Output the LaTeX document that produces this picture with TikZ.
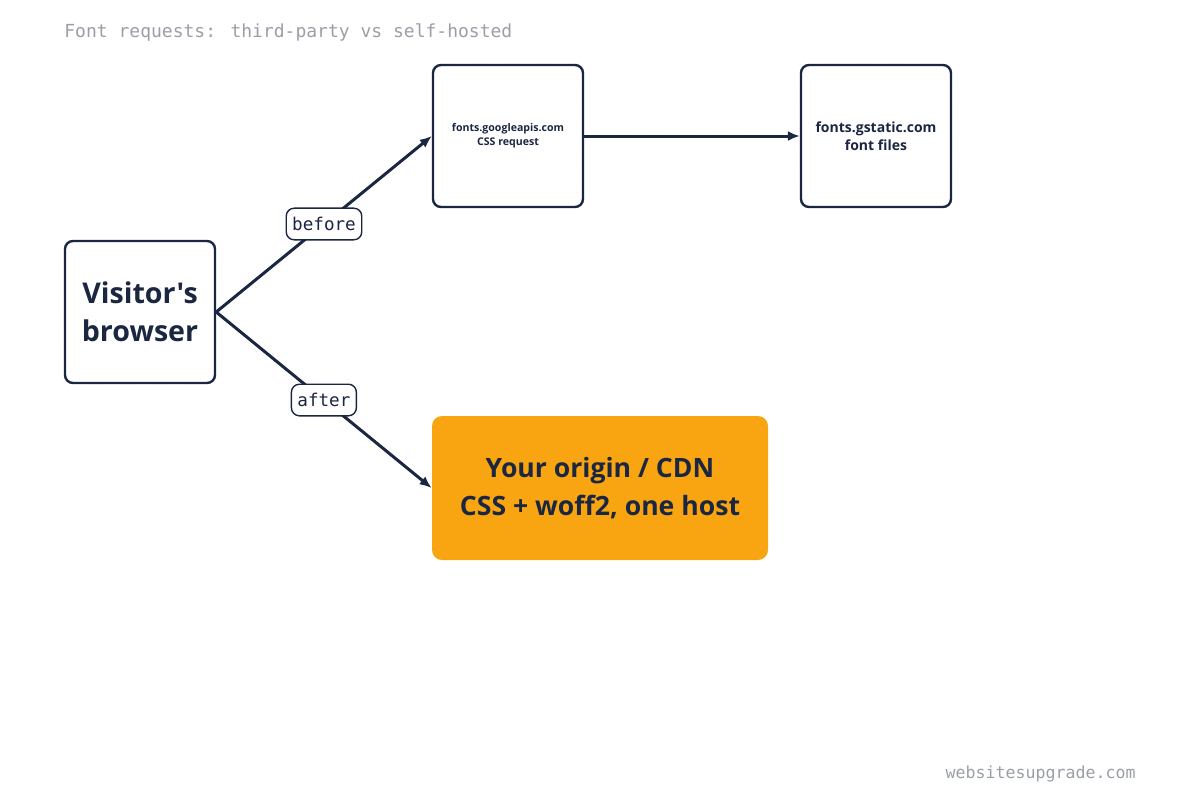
\documentclass[tikz,border=0pt]{standalone}
\usepackage{fontspec}
\setmainfont{Open Sans}[Ligatures=TeXOff]
\newfontfamily\monofont{DejaVu Sans Mono}
\usetikzlibrary{arrows.meta,positioning}
\definecolor{ink}{HTML}{1B2640}
\definecolor{amber}{HTML}{F9A512}
\definecolor{mute}{HTML}{9A9EA6}
\begin{document}
\begin{tikzpicture}[x=0.5pt,y=-0.5pt,
    box/.style={rectangle, draw=ink, line width=1.2pt, rounded corners=4pt,
                minimum width=75pt, minimum height=71pt, align=center,
                text=ink, font=\bfseries},
    hot/.style={rectangle, fill=amber, rounded corners=5pt, minimum width=168pt,
                minimum height=72pt, align=center, text=ink,
                font=\fontsize{13.3}{19}\selectfont\bfseries},
    tag/.style={rectangle, draw=ink, fill=white, line width=0.7pt, rounded corners=4pt,
                inner xsep=3pt, inner ysep=4.5pt, text=ink,
                font=\monofont\fontsize{8.8}{10}\selectfont},
    arr/.style={-{Latex[length=6pt,width=5pt]}, line width=1.5pt, draw=ink},
  ]
  \useasboundingbox (0,0) rectangle (1200,800);
  % background dots
  \foreach \i in {1,...,37} \foreach \j in {1,...,24}
    \fill[black!6] (32*\i,32*\j) circle (0.6pt);

  % title and footer
  \node[anchor=west, inner sep=0pt, text=mute, font=\monofont\fontsize{9}{10}\selectfont] (title) at (64,32)
    {Font requests: third-party vs self-hosted};
  \node[anchor=east, inner sep=0pt, text=mute, font=\monofont\fontsize{8.3}{10}\selectfont] (site) at (1136,774)
    {websitesupgrade.com};

  % nodes
  \node[box, font=\fontsize{14.3}{19}\selectfont\bfseries] (browser) at (140,312) {Visitor's\\browser};
  \node[box, font=\fontsize{5.3}{7}\selectfont\bfseries] (apis) at (508,136) {fonts.googleapis.com\\CSS request};
  \node[box, font=\fontsize{7}{9}\selectfont\bfseries] (gstatic) at (876,136) {fonts.gstatic.com\\font files};
  \node[hot] (origin) at (600,488) {Your origin / CDN\\CSS + woff2, one host};

  % connectors
  \draw[arr] (browser.east) -- node[tag, pos=0.5] {before} (apis.west);
  \draw[arr] (browser.east) -- node[tag, pos=0.5] {after} (origin.west);
  \draw[arr] (apis) -- (gstatic);
\end{tikzpicture}
\end{document}
